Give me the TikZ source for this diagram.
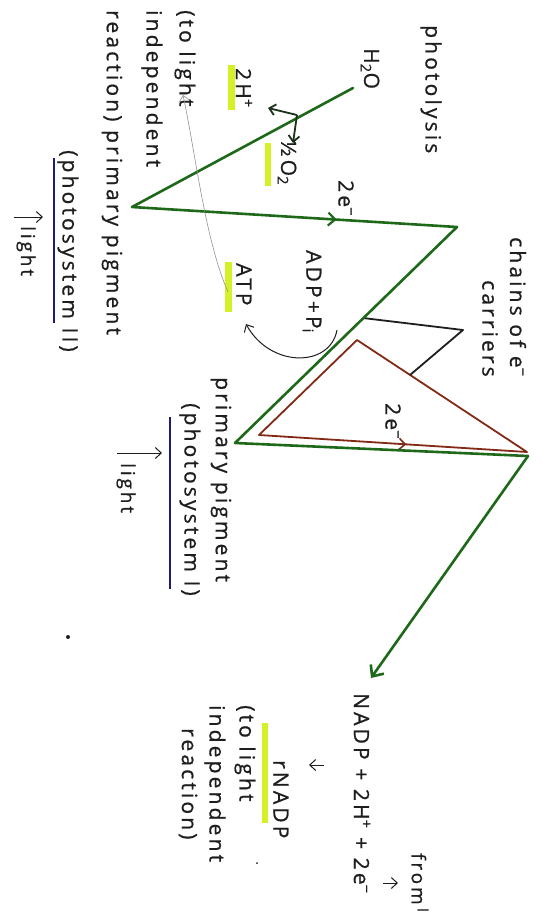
\documentclass[tikz,border=0pt]{standalone}
\usepackage{fontspec}
\setmainfont{Open Sans}[LetterSpace=15,FakeBold=0.8]
\usetikzlibrary{arrows.meta,decorations.markings}
\definecolor{gline}{RGB}{30,105,25}
\definecolor{bline}{RGB}{130,42,22}
\definecolor{hl}{RGB}{214,240,40}
\definecolor{pen}{RGB}{28,28,120}
\definecolor{ink}{RGB}{30,30,30}
\definecolor{dpen}{RGB}{25,50,25}
\begin{document}
\begin{tikzpicture}[x=1pt,y=-1pt,
  hw/.style={rotate=-90, anchor=west, inner sep=0pt, text=ink, font=\fontsize{21}{24}\selectfont},
  hwsmall/.style={hw, font=\fontsize{19}{22}\selectfont},
  gpath/.style={draw=gline, line width=2.6pt, line join=round, line cap=round},
  bpath/.style={draw=bline, line width=1.8pt, line join=round},
  kpath/.style={draw=ink, line width=1.8pt, line join=round},
  tip/.style={-{Straight Barb[length=6pt,width=11pt]}},
  bigtip/.style={-{Straight Barb[length=9pt,width=16pt]}},
  hlbar/.style={fill=hl},
  ulbar/.style={draw=pen, line width=1.6pt},
  thinline/.style={draw=gray!85, line width=0.6pt},
  pencil/.style={draw=ink, line width=1pt}]
\fill[white] (0,0) rectangle (542,922);
\useasboundingbox (0,0) rectangle (542,922);

% highlights
\fill[hlbar] (228,65) rectangle (235,110);
\fill[hlbar] (265,143) rectangle (271,186);
\fill[hlbar] (225,262) rectangle (232,312);
\fill[hlbar] (262,723) rectangle (268,823);

% blue underlines
\draw[ulbar] (54,158) -- (54,323);
\draw[ulbar] (170,417) -- (170,589);

% coordinates of the zigzag
\coordinate (A) at (353,88);
\coordinate (B) at (132,207);
\coordinate (C) at (457,227);
\coordinate (D) at (235,443);
\coordinate (E) at (528,456);
\coordinate (F) at (371,678);
\coordinate (P1) at (357,340);
\coordinate (P2) at (259,435);
\coordinate (P3) at (527,452);
\coordinate (G1) at (363,318);
\coordinate (G2) at (463,330);
\coordinate (G3) at (410,375);

% brown triangle (cyclic)
\draw[bpath] (P1) -- (P2) -- (P3) -- cycle;
\path[decorate, decoration={markings, mark=at position 0.55 with {\arrow[bline, line width=1.6pt]{Straight Barb[length=6pt,width=11pt]}}}] (P2) -- (P3);
% black bracket
\draw[kpath] (G1) -- (G2) -- (G3);
% green zigzag
\draw[gpath] (A) -- (B) -- (C) -- (D) -- (E);
\draw[gpath, bigtip] (E) -- (F);
\path[decorate, decoration={markings, mark=at position 0.63 with {\arrow[gline, line width=2.2pt]{Straight Barb[length=7pt,width=13pt]}}}] (B) -- (C);

% photolysis split
\coordinate (S) at (297,115);
\coordinate (Hp) at (268,108);
\coordinate (Ox) at (293,143);
\draw[dpen, line width=1.8pt, tip] (S) -- (Hp);
\draw[dpen, line width=1.8pt, tip] (S) -- (Ox);

% texts
\node[hw] (photolysis) at (431,25) {photolysis};
\node[hw] (water) at (370,48) {H\textsubscript{2}O};
\node[hw] (hplus) at (244,68) {2H\textsuperscript{+}};
\node[hw] (oxy) at (287,140) {½O\textsubscript{2}};
\node[hw] (etwo) at (346,180) {2e\textsuperscript{−}};
\node[hw] (adp) at (312,250) {ADP+P\textsubscript{i}};
\node[hw] (atp) at (244,263) {ATP};
\node[hw] (chains) at (518,237) {chains of e\textsuperscript{−}};
\node[hw] (carriers) at (490,280) {carriers};
\node[hw] (ethree) at (393,403) {2e\textsuperscript{−}};
\node[hw] (ppI) at (221,377) {primary pigment};
\node[hw] (psI) at (190,403) {(photosystem I)};
\node[hwsmall] (lightI) at (126,463) {light};
\node[hw] (toA) at (185,10) {(to light};
\node[hw] (indA) at (152,10) {independent};
\node[hw] (ppII) at (112,10) {reaction) primary pigment};
\node[hw] (psII) at (68,150) {(photosystem II)};
\node[hwsmall] (lightII) at (26,226) {light};
\node[hw] (nadp) at (362,693) {NADP + 2H\textsuperscript{+} + 2e\textsuperscript{−}};
\node[hwsmall] (fromI) at (420,853) {from\,\raisebox{6pt}{\fontsize{15}{15}\selectfont I}};
\node[hw] (rnadp) at (281,760) {rNADP};
\node[hw] (toB) at (245,705) {(to light};
\node[hw] (indB) at (215,705) {independent};
\node[hw] (reacB) at (188,728) {reaction)};

% small arrows
\draw[pencil, tip] (117,453) -- (162,453);
\draw[pencil, tip] (14,217) -- (43,217);
\draw[pencil, tip] (383,883) -- (398,883);
\draw[pencil, tip] (324,765) -- (309,765);

% ADP + Pi -> ATP
\draw[pencil, tip] (337,330) .. controls (330,368) and (270,368) .. (246,324);
% ATP -> to light independent reaction
\draw[thinline, tip] (228,292) .. controls (205,240) and (195,150) .. (183,95);

% ink dots
\fill[ink] (68,637) circle (2pt);
\fill[ink] (257,863) circle (1pt);
\end{tikzpicture}
\end{document}
